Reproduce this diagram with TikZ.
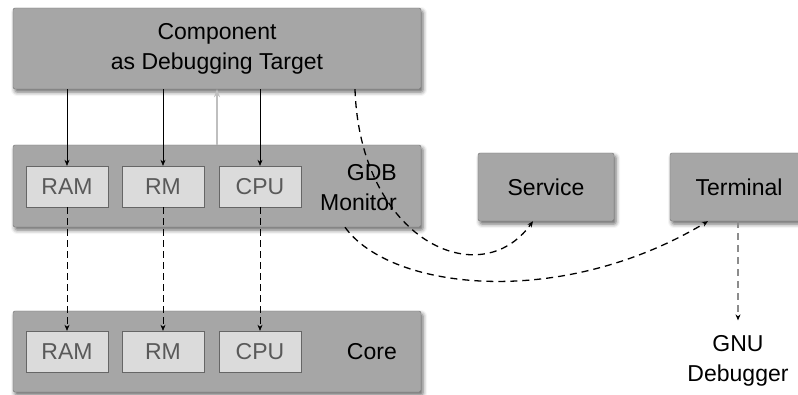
\documentclass[tikz,border=0pt]{standalone}
\usepackage{fontspec}
\setmainfont{Liberation Sans}
\usetikzlibrary{arrows.meta,shadows.blur}

\begin{document}
\begin{tikzpicture}[x=1pt, y=-1pt,
  font=\fontsize{23}{30}\selectfont,
  box/.style={draw=black!55, fill=black!35, rounded corners=2pt, inner sep=0pt,
    align=center, blur shadow={shadow xshift=2pt, shadow yshift=-3pt,
    shadow blur radius=4pt, shadow opacity=60}},
  part/.style={draw=black!60, fill=black!14, text=black!65,
    minimum width=82pt, minimum height=41pt, inner sep=0pt},
  label/.style={inner sep=0pt, align=right},
  tip/.style={-{Stealth[length=6pt, width=5pt]}},
  link/.style={tip, line width=1.3pt, dash pattern=on 7pt off 5pt}]
  \useasboundingbox (0,0) rectangle (798,394);

  % layers
  \node[box, minimum width=408pt, minimum height=81pt] (target) at (217,48.5)
    {Component\\as Debugging Target};
  \node[box, minimum width=408pt, minimum height=82pt] (gdb) at (217,186) {};
  \node[box, minimum width=408pt, minimum height=81pt] (core) at (217,351.5) {};
  \node[label, anchor=east] (gdblabel) at (397,188) {GDB\\Monitor};
  \node[label, anchor=east] (corelabel) at (397,352) {Core};

  % services beside the monitor
  \node[box, minimum width=136pt, minimum height=68pt] (service) at (546,187) {Service};
  \node[box, minimum width=138pt, minimum height=68pt] (terminal) at (739,187) {Terminal};
  \node[inner sep=0pt, align=center] (gnu) at (738,361) {GNU\\Debugger};

  % resources of monitor and core
  \foreach \n/\t/\x in {ram/RAM/67, rm/RM/163, cpu/CPU/260}{
    \node[part] (g\n) at (\x,186.5) {\t};
    \node[part] (c\n) at (\x,351.5) {\t};
    \draw[tip, line width=0.6pt] (target.south -| g\n) -- (g\n.north);
    \draw[tip, line width=0.6pt, dash pattern=on 7pt off 4pt] (g\n.south) -- (c\n.north);
  }

  % monitor starts the target
  \draw[-{Stealth[length=8pt, width=6pt]}, black!25, line width=1.4pt] (gdb.north) -- (target.south);

  % debugging connections
  \draw[link] ([xshift=138pt]target.south) .. controls (360,240) and (480,295)
    .. ([xshift=-13pt]service.south);
  \draw[link] ([xshift=128pt]gdb.south) .. controls (390,290) and (560,310)
    .. ([xshift=-31pt]terminal.south);
  \draw[-{Stealth[length=6pt, width=5pt, black]}, black!45, line width=1.2pt,
    dash pattern=on 7pt off 5pt, shorten >=15pt] (terminal.south -| gnu) -- (gnu.north);
\end{tikzpicture}
\end{document}
